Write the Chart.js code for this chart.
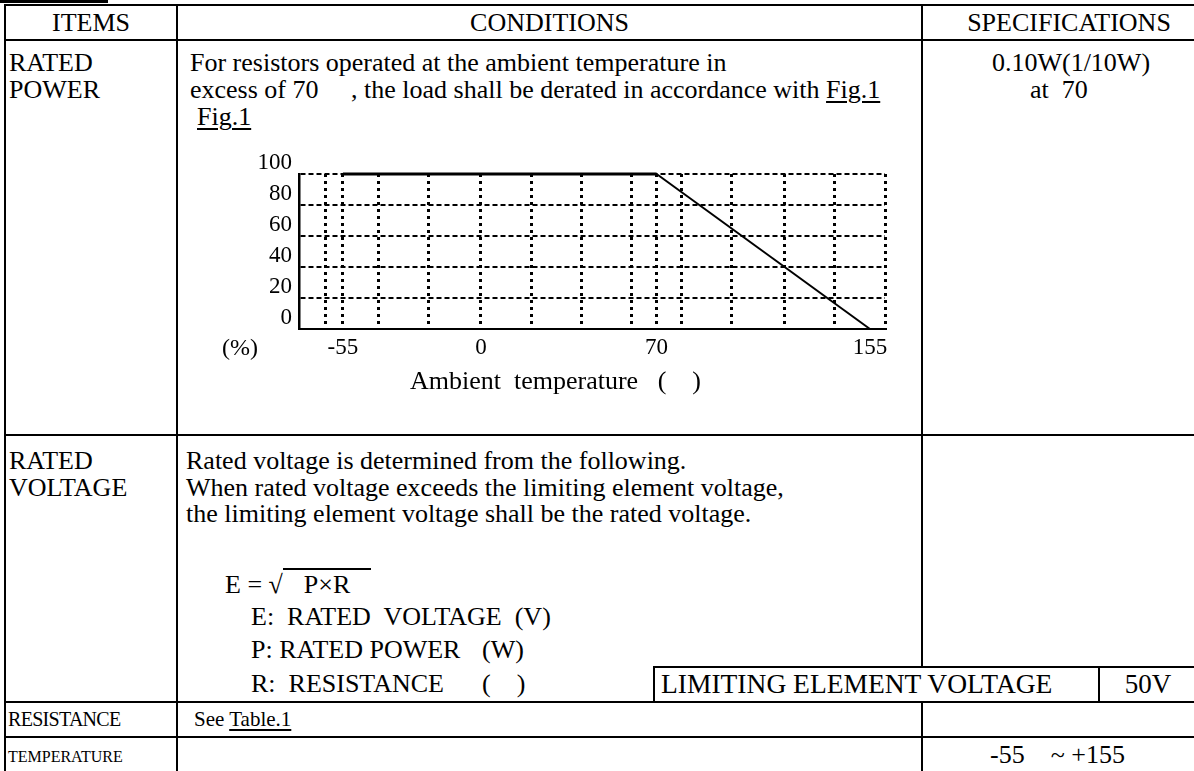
<!DOCTYPE html>
<html>
<head>
<meta charset="utf-8">
<script src="https://cdn.jsdelivr.net/npm/chart.js@4.4.0/dist/chart.umd.min.js"></script>
<style>
  html, body { margin: 0; padding: 0; background: #fff; }
  body {
    width: 1194px; height: 771px; position: relative; overflow: hidden;
    font-family: "Liberation Serif", "Times New Roman", serif; font-size: 26px; color: #000;
  }
  .t { position: absolute; white-space: pre; line-height: 26px; }
  .c { text-align: center; }
  .h { position: absolute; height: 2px; background: #000; }
  .v { position: absolute; width: 2px; background: #000; }
  .u { text-decoration: underline; text-underline-offset: 3px; text-decoration-thickness: 2px; }
  .ov { border-top: 2px solid #000; padding: 0 21px 0 21px; }
  #fig { position: absolute; left: 200px; top: 140px; }
</style>
</head>
<body>

<!-- table rules -->
<div class="h" style="left:0;top:0;width:108px;height:3px"></div>
<div class="h" style="left:4px;top:4px;width:1190px"></div>
<div class="h" style="left:4px;top:39px;width:1190px"></div>
<div class="h" style="left:4px;top:434px;width:1190px"></div>
<div class="h" style="left:654px;top:666px;width:540px"></div>
<div class="h" style="left:4px;top:701px;width:1190px"></div>
<div class="h" style="left:4px;top:736px;width:1190px"></div>
<div class="v" style="left:4px;top:4px;height:767px"></div>
<div class="v" style="left:176px;top:4px;height:767px"></div>
<div class="v" style="left:921px;top:4px;height:663px"></div>
<div class="v" style="left:921px;top:701px;height:70px"></div>
<div class="v" style="left:653px;top:666px;height:36px"></div>
<div class="v" style="left:1098px;top:666px;height:36px"></div>

<!-- header -->
<div class="t c" style="left:6px;top:10px;width:170px">ITEMS</div>
<div class="t c" style="left:178px;top:10px;width:743px">CONDITIONS</div>
<div class="t c" style="left:923px;top:10px;width:292px">SPECIFICATIONS</div>

<!-- rated power -->
<div class="t" style="left:9px;top:50px">RATED</div>
<div class="t" style="left:9px;top:77px">POWER</div>
<div class="t" style="left:190px;top:50px">For resistors operated at the ambient temperature in</div>
<div class="t" style="left:190px;top:77px">excess of 70     , the load shall be derated in accordance with <span class="u">Fig.1</span></div>
<div class="t" style="left:197px;top:104px"><span class="u">Fig.1</span></div>
<div class="t c" style="left:923px;top:50px;width:296px">0.10W(1/10W)</div>
<div class="t" style="left:1030px;top:77px">at  70</div>

<canvas id="fig" width="700" height="280"></canvas>
<div class="t" style="left:222px;top:334px;font-size:24px">(%)</div>
<div class="t" style="left:410px;top:368px">Ambient  temperature   (    )</div>

<!-- rated voltage -->
<div class="t" style="left:9px;top:448px">RATED</div>
<div class="t" style="left:9px;top:475px">VOLTAGE</div>
<div class="t" style="left:186px;top:448px">Rated voltage is determined from the following.</div>
<div class="t" style="left:186px;top:475px">When rated voltage exceeds the limiting element voltage,</div>
<div class="t" style="left:186px;top:501px">the limiting element voltage shall be the rated voltage.</div>
<div class="t" style="left:225px;top:572px">E = <span>√</span><span class="ov">P×R</span></div>
<div class="t" style="left:251px;top:604px">E:  RATED  VOLTAGE  (V)</div>
<div class="t" style="left:251px;top:637px">P: RATED POWER</div>
<div class="t" style="left:482px;top:637px">(W)</div>
<div class="t" style="left:251px;top:671px">R:  RESISTANCE</div>
<div class="t" style="left:482px;top:671px">(    )</div>
<div class="t" style="left:661px;top:671px;font-size:27.5px">LIMITING ELEMENT VOLTAGE</div>
<div class="t c" style="left:1100px;top:671px;width:96px;font-size:27px">50V</div>

<!-- resistance / temperature -->
<div class="t" style="left:8px;top:706px;font-size:20px;letter-spacing:-0.7px">RESISTANCE</div>
<div class="t" style="left:194px;top:706px;font-size:21px">See <span class="u">Table.1</span></div>
<div class="t" style="left:8px;top:744px;font-size:16px">TEMPERATURE</div>
<div class="t" style="left:990px;top:742px">-55    ~ +155</div>

<script>
// Fig.1 derating curve
const tempPoints = [-55, 70, 155];
const powerPoints = [100, 100, 0];
const xGridValues = [-62, -55, -41, -21, 0, 20, 40, 60, 70, 80, 100, 121, 141, 161];
const xTickLabels = [-55, 0, 70, 155];
const yTickLabels = [0, 20, 40, 60, 80, 100];
const xMin = -72.5;
const xMax = 161;

function drawFig() {
    Chart.defaults.font.family = '"Liberation Serif", "Times New Roman", serif';
    Chart.defaults.font.size = 23;
    Chart.defaults.color = '#000';

    let xTicks = Array.from(new Set(xGridValues.concat(xTickLabels))).sort(function (a, b) { return a - b; });

    let config = {
        type: 'line',
        data: {
            datasets: [{
                data: tempPoints.map(function (t, i) { return {x: t, y: powerPoints[i]}; }),
                borderColor: '#000',
                borderWidth: 2,
                segment: {
                    borderWidth: function (c) { return c.p0DataIndex === 0 ? 3 : 2; }
                },
                pointRadius: 0,
                tension: 0,
                clip: false
            }]
        },
        options: {
            responsive: false,
            animation: false,
            devicePixelRatio: 1,
            layout: {padding: {top: 34, right: 15, left: 0, bottom: 0}},
            plugins: {legend: {display: false}, tooltip: {enabled: false}},
            scales: {
                x: {
                    type: 'linear',
                    min: xMin,
                    max: xMax,
                    afterBuildTicks: function (s) { s.ticks = xTicks.map(function (v) { return {value: v}; }); },
                    afterFit: function (s) { s.height = 91; },
                    grid: {
                        color: function (c) { return c.tick && xGridValues.includes(c.tick.value) ? '#000' : 'rgba(0,0,0,0)'; },
                        lineWidth: 3,
                        drawTicks: false
                    },
                    border: {display: true, color: '#000', width: 2, dash: [3, 4]},
                    ticks: {
                        padding: 5,
                        autoSkip: false,
                        maxRotation: 0,
                        callback: function (v) { return xTickLabels.includes(v) ? String(v) : ''; }
                    }
                },
                y: {
                    type: 'linear',
                    min: 0,
                    max: 100,
                    afterBuildTicks: function (s) { s.ticks = yTickLabels.map(function (v) { return {value: v}; }); },
                    afterFit: function (s) { s.width = 99; },
                    grid: {color: '#000', lineWidth: 2, drawTicks: false},
                    border: {display: true, color: '#000', width: 2.5, dash: [5, 3]},
                    ticks: {padding: 7, labelOffset: -11}
                }
            }
        }
    };
    new Chart(document.getElementById('fig').getContext('2d'), config);
}

drawFig();
</script>
</body>
</html>
